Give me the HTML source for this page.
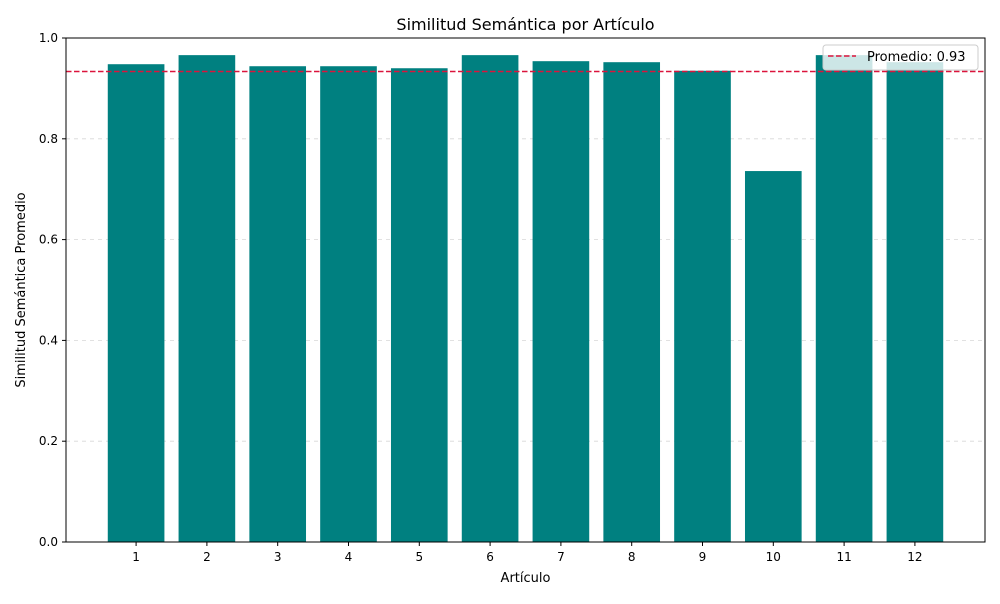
<!DOCTYPE html>
<html><head><meta charset="utf-8"><style>
body{margin:0;background:#fff;font-family:"DejaVu Sans","Liberation Sans",sans-serif;}
svg text{font-family:"DejaVu Sans","Liberation Sans",sans-serif;}
</style></head><body>
<svg id="chart" width="1000" height="600" viewBox="0 0 1000 600">
<rect width="1000" height="600" fill="#fff"/>
<g id="grid"></g><g id="bars"></g><g id="axes"></g>
</svg>
<script>
const categories=["1","2","3","4","5","6","7","8","9","10","11","12"];
const values=[0.948,0.966,0.944,0.944,0.940,0.966,0.954,0.952,0.935,0.736,0.966,0.952];
const yTicks=[0,0.2,0.4,0.6,0.8,1.0];
const meanValue=values.reduce((a,b)=>a+b,0)/values.length;
const X0=66,X1=985,Y0=542,Y1=38;
const xmin=0.01,xmax=12.99;
function xs(v){return X0+(v-xmin)/(xmax-xmin)*(X1-X0);}
function ys(v){return Y0-(v)/(1.0)*(Y0-Y1);}
const NS="http://www.w3.org/2000/svg";
function mk(t,a,p){const e=document.createElementNS(NS,t);for(const k in a)e.setAttribute(k,a[k]);p.appendChild(e);return e;}
const grid=document.getElementById('grid'),bars=document.getElementById('bars'),axes=document.getElementById('axes');
yTicks.forEach(t=>{
 if(t>0&&t<1){const g=mk('line',{x1:X0,x2:X1,y1:ys(t),y2:ys(t),stroke:'#b0b0b0','stroke-opacity':0.5,'stroke-dasharray':'4,4','stroke-width':0.8},grid);
 
 }
 const tk=mk('line',{x1:X0-4,x2:X0,y1:ys(t),y2:ys(t),stroke:'#000'},axes);
 
 
 const tl=mk('text',{x:X0-8,y:ys(t)+4,'text-anchor':'end','font-size':12},axes);tl.textContent=t.toFixed(1);
 
 
});
categories.forEach((c,i)=>{
 const cx=xs(i+1),w=xs(0.8)-xs(0);
 const r=mk('rect',{x:cx-w/2,y:ys(values[i]),width:w,height:Y0-ys(values[i]),fill:'#008080'},bars);
 
 
 const tk=mk('line',{x1:cx,x2:cx,y1:Y0,y2:Y0+4,stroke:'#000'},axes);
 
 
 const tl=mk('text',{x:cx,y:Y0+19,'text-anchor':'middle','font-size':12},axes);tl.textContent=c;
 
 
});
const ml=mk('line',{x1:X0,x2:X1,y1:ys(meanValue),y2:ys(meanValue),stroke:'#dc143c','stroke-width':1.5,'stroke-dasharray':'5.5,2.5'},axes);


const fr=mk('rect',{x:X0,y:Y1,width:X1-X0,height:Y0-Y1,fill:'none',stroke:'#000','stroke-width':1},axes);


const lg=mk('g',{},axes);


mk('rect',{x:823,y:45,width:155,height:25,rx:3,fill:'#fff','fill-opacity':0.8,stroke:'#ccc'},lg);
mk('line',{x1:828,x2:856,y1:56,y2:56,stroke:'#dc143c','stroke-width':1.5,'stroke-dasharray':'5.5,2.5'},lg);
const lt=mk('text',{x:867,y:61,'font-size':13},lg);lt.textContent='Promedio: '+meanValue.toFixed(2);


const ti=mk('text',{x:525.5,y:30,'text-anchor':'middle','font-size':16},axes);ti.textContent='Similitud Semántica por Artículo';


const xt=mk('text',{x:525.5,y:582,'text-anchor':'middle','font-size':13},axes);xt.textContent='Artículo';


const yt=mk('text',{x:25,y:290,'text-anchor':'middle','font-size':13,transform:'rotate(-90 25 290)'},axes);yt.textContent='Similitud Semántica Promedio';


</script>
</body></html>
